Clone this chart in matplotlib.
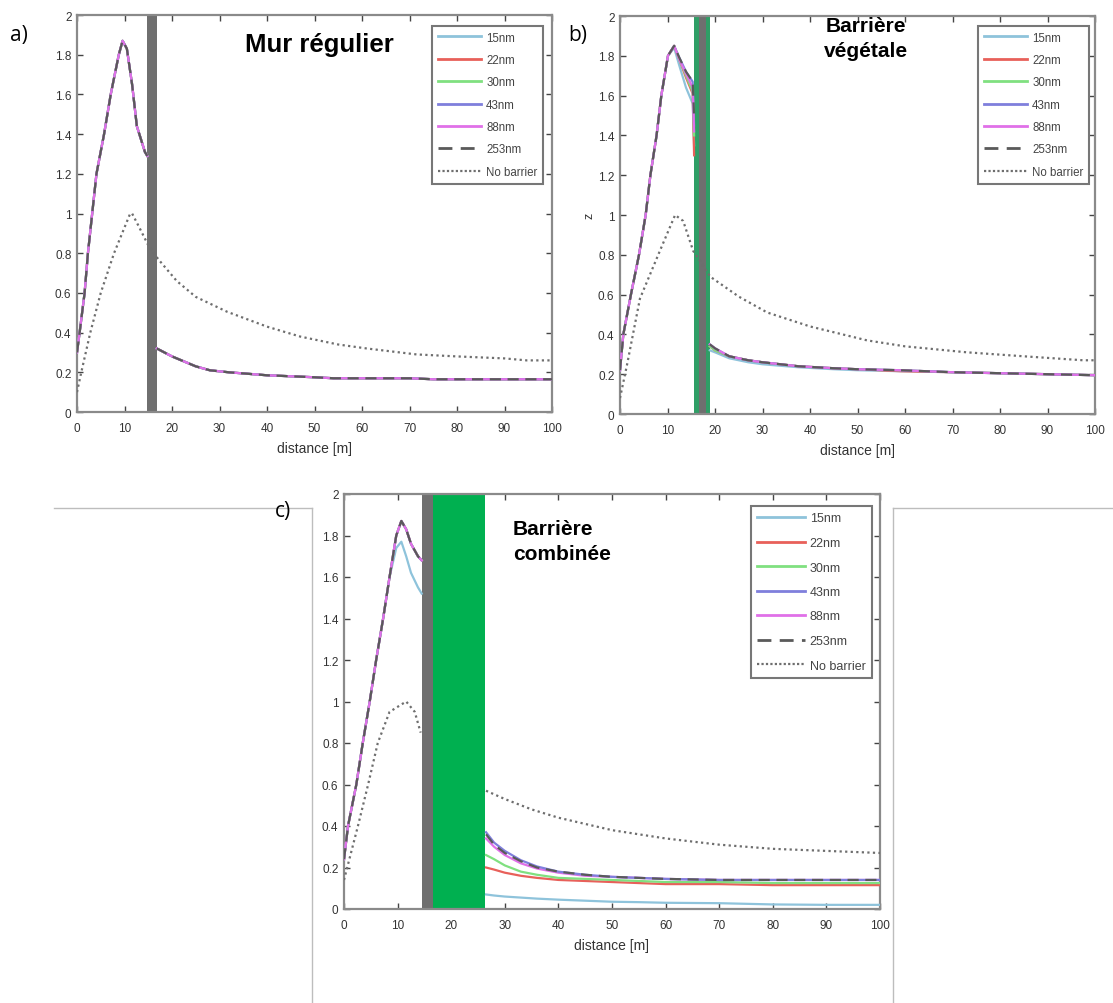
import matplotlib
matplotlib.use("Agg")
import matplotlib.pyplot as plt
from matplotlib.ticker import FuncFormatter
from matplotlib.lines import Line2D

plt.rcParams['font.family'] = ['Liberation Sans', 'DejaVu Sans']

# ---------------- data ----------------
series = ["15nm", "22nm", "30nm", "43nm", "88nm", "253nm"]
colors = {"15nm": "#8ec3db", "22nm": "#e8605a", "30nm": "#80e080",
          "43nm": "#7f7fdc", "88nm": "#e070e8", "253nm": "#5a5a5a"}
nobar_color = "#6e6e6e"
xticks = [0, 10, 20, 30, 40, 50, 60, 70, 80, 90, 100]
yticks = [0, 0.2, 0.4, 0.6, 0.8, 1.0, 1.2, 1.4, 1.6, 1.8, 2.0]

# Panel a : regular wall (all particle sizes overlap)
a_pre_x = [0, 0.55, 1.6, 2.3, 3.2, 4.1, 5.7, 7.1, 8.8, 9.6, 10.5, 11.6, 12.6, 14.3, 14.8]
a_pre_z = [0.30, 0.40, 0.60, 0.80, 1.00, 1.20, 1.40, 1.60, 1.80, 1.87, 1.83, 1.65, 1.44, 1.31, 1.29]
a_post_x = [16.8, 20, 25, 28, 32, 40, 50, 54, 60, 70, 75, 80, 90, 100]
a_post_z = [0.32, 0.28, 0.23, 0.21, 0.20, 0.185, 0.175, 0.17, 0.17, 0.17, 0.165, 0.165, 0.165, 0.165]
a_nb_x = [0, 0.9, 2.8, 5.0, 7.8, 11.2, 11.6, 12.9, 15.0, 17.1, 21, 25, 31.6, 40, 47, 55, 61, 71.5, 80, 90, 94.7, 100]
a_nb_z = [0.10, 0.20, 0.40, 0.60, 0.80, 1.00, 1.00, 0.94, 0.84, 0.77, 0.66, 0.58, 0.505, 0.43, 0.38, 0.34, 0.32, 0.29, 0.28, 0.27, 0.26, 0.26]
a_wall = (14.8, 16.8)

# Panel b : vegetation barrier
b_pre_x = [0, 0.7, 2.3, 4.0, 5.4, 6.4, 7.7, 8.7, 10.1, 11.4, 12.5, 13.9, 15.3, 15.6]
b_pre_z = {
    "15nm":  [0.22, 0.40, 0.60, 0.80, 1.00, 1.20, 1.40, 1.60, 1.80, 1.84, 1.75, 1.64, 1.56, 1.35],
    "22nm":  [0.22, 0.40, 0.60, 0.80, 1.00, 1.20, 1.40, 1.60, 1.80, 1.85, 1.78, 1.69, 1.61, 1.30],
    "30nm":  [0.22, 0.40, 0.60, 0.80, 1.00, 1.20, 1.40, 1.60, 1.80, 1.85, 1.78, 1.70, 1.62, 1.40],
    "43nm":  [0.22, 0.40, 0.60, 0.80, 1.00, 1.20, 1.40, 1.60, 1.80, 1.85, 1.79, 1.72, 1.67, 1.45],
    "88nm":  [0.22, 0.40, 0.60, 0.80, 1.00, 1.20, 1.40, 1.60, 1.80, 1.85, 1.78, 1.71, 1.64, 1.42],
    "253nm": [0.22, 0.40, 0.60, 0.80, 1.00, 1.20, 1.40, 1.60, 1.80, 1.85, 1.79, 1.72, 1.67, 1.50],
}
b_post_x = [18.9, 20, 23, 27, 30, 37.5, 45, 50, 59, 70, 80, 90, 100]
b_post_z = {
    "15nm":  [0.32, 0.31, 0.28, 0.26, 0.25, 0.235, 0.225, 0.22, 0.215, 0.21, 0.205, 0.20, 0.195],
    "22nm":  [0.34, 0.32, 0.29, 0.27, 0.26, 0.24, 0.23, 0.225, 0.215, 0.21, 0.205, 0.20, 0.195],
    "30nm":  [0.34, 0.32, 0.29, 0.27, 0.26, 0.24, 0.23, 0.225, 0.22, 0.21, 0.205, 0.20, 0.195],
    "43nm":  [0.35, 0.33, 0.29, 0.27, 0.26, 0.24, 0.23, 0.225, 0.22, 0.21, 0.205, 0.20, 0.195],
    "88nm":  [0.35, 0.33, 0.29, 0.27, 0.26, 0.24, 0.23, 0.225, 0.22, 0.21, 0.205, 0.20, 0.195],
    "253nm": [0.35, 0.33, 0.29, 0.27, 0.26, 0.24, 0.23, 0.225, 0.22, 0.21, 0.205, 0.20, 0.195],
}
b_nb_x = [0, 1.5, 4.2, 8.4, 11.6, 13.3, 15.4, 19, 25, 31, 40, 52, 60, 73, 85, 97.5, 100]
b_nb_z = [0.08, 0.25, 0.58, 0.82, 1.00, 0.97, 0.82, 0.69, 0.59, 0.51, 0.44, 0.37, 0.34, 0.31, 0.29, 0.27, 0.27]
b_green = (15.6, 18.9)
b_wall = (16.6, 18.2)

# Panel c : combined barrier
c_pre_x = [0, 0.75, 2.3, 3.5, 4.8, 6.0, 7.3, 8.5, 9.75, 10.7, 11.6, 12.5, 13.8, 14.5]
c_pre_main = [0.24, 0.40, 0.60, 0.80, 1.00, 1.20, 1.40, 1.60, 1.80, 1.87, 1.83, 1.76, 1.70, 1.68]
c_pre_15 = [0.24, 0.40, 0.60, 0.80, 1.00, 1.20, 1.40, 1.60, 1.74, 1.77, 1.70, 1.62, 1.55, 1.52]
c_post_x = [26.5, 28, 30, 33, 36, 40, 45, 50, 55, 60, 70, 80, 90, 100]
c_post_z = {
    "15nm":  [0.07, 0.065, 0.06, 0.055, 0.05, 0.045, 0.04, 0.035, 0.033, 0.03, 0.028, 0.022, 0.02, 0.02],
    "22nm":  [0.20, 0.19, 0.175, 0.16, 0.15, 0.14, 0.135, 0.13, 0.125, 0.12, 0.12, 0.115, 0.115, 0.115],
    "30nm":  [0.26, 0.24, 0.21, 0.18, 0.165, 0.15, 0.145, 0.14, 0.135, 0.13, 0.13, 0.125, 0.125, 0.125],
    "43nm":  [0.37, 0.32, 0.28, 0.235, 0.205, 0.18, 0.165, 0.155, 0.15, 0.145, 0.14, 0.14, 0.14, 0.14],
    "88nm":  [0.34, 0.30, 0.26, 0.22, 0.195, 0.175, 0.16, 0.155, 0.15, 0.145, 0.14, 0.14, 0.14, 0.14],
    "253nm": [0.36, 0.31, 0.27, 0.23, 0.20, 0.18, 0.165, 0.155, 0.15, 0.145, 0.14, 0.14, 0.14, 0.14],
}
c_nb_x = [0, 2.6, 4.5, 6.3, 8.5, 11.6, 13.2, 14.3, 26.5, 30, 35, 40, 50, 60, 70, 80, 90, 100]
c_nb_z = [0.14, 0.40, 0.60, 0.80, 0.95, 1.00, 0.95, 0.85, 0.57, 0.53, 0.48, 0.44, 0.38, 0.34, 0.31, 0.29, 0.28, 0.27]
c_wall = (14.5, 16.6)
c_green = (16.6, 26.3)

# ---------------- figure ----------------
W, H = 1113, 1004
fig = plt.figure(figsize=(W / 100, H / 100), dpi=100)


def px_axes(l, t, r, b):
    return fig.add_axes([l / W, 1 - b / H, (r - l) / W, (b - t) / H])


def style(ax):
    ax.set_xlim(0, 100)
    ax.set_ylim(0, 2)
    ax.set_xticks(xticks)
    ax.set_yticks(yticks)
    ax.yaxis.set_major_formatter(FuncFormatter(lambda v, p: "%g" % round(v, 1)))
    ax.tick_params(direction="in", length=4, width=1, top=True, right=True,
                   labelsize=8.5, colors="#444444", labelcolor="#333333", pad=4)
    ax.tick_params(axis="x", pad=7)
    for s in ax.spines.values():
        s.set_color("#8a8a8a")
        s.set_linewidth(1.6)
    ax.set_xlabel("distance [m]", fontsize=10, color="#333333", labelpad=5)


def legend(ax, anchor, spacing, fs):
    handles = [Line2D([], [], color=colors[s], lw=2,
                      ls=(0, (5, 3)) if s == "253nm" else "-") for s in series]
    handles.append(Line2D([], [], color=nobar_color, lw=1.6, ls=(0, (1, 1))))
    lg = ax.legend(handles, series + ["No barrier"], loc="upper right",
                   bbox_to_anchor=anchor, bbox_transform=fig.transFigure,
                   fontsize=fs, handlelength=3.8, labelspacing=spacing,
                   borderpad=0.5, handletextpad=0.4, fancybox=False, framealpha=1)
    lg.get_frame().set_edgecolor("#777777")
    lg.get_frame().set_linewidth(1.5)
    for t in lg.get_texts():
        t.set_color("#444444")


def plot_series(ax, x, z, s, zorder=3):
    ax.plot(x, z, color=colors[s], lw=1.6,
            ls=(0, (5, 3)) if s == "253nm" else "-", zorder=zorder)


# ---- panel a
axa = px_axes(77, 16, 552, 413)
style(axa)
axa.axvspan(*a_wall, color="#6f6f6f", zorder=2, lw=0)
for s in series:
    plot_series(axa, a_pre_x, a_pre_z, s)
    plot_series(axa, a_post_x, a_post_z, s)
axa.plot(a_nb_x, a_nb_z, color=nobar_color, lw=1.6, ls=(0, (1, 1.5)), zorder=3)
legend(axa, (549 / W, 1 - 21 / H), 0.9, 8.3)

# ---- panel b
axb = px_axes(620, 17, 1095, 415)
style(axb)
axb.axvspan(*b_green, color="#2f9e66", zorder=2, lw=0)
axb.axvspan(*b_wall, color="#6f6f6f", zorder=2, lw=0)
for s in series:
    plot_series(axb, b_pre_x, b_pre_z[s], s)
    plot_series(axb, b_post_x, b_post_z[s], s)
axb.plot(b_nb_x, b_nb_z, color=nobar_color, lw=1.6, ls=(0, (1, 1.5)), zorder=3)
axb.set_ylabel("z", fontsize=9, color="#333333", labelpad=2)
legend(axb, (1095 / W, 1 - 21 / H), 0.9, 8.3)

# ---- panel c
axc = px_axes(344, 495, 880, 910)
style(axc)
axc.axvspan(*c_wall, color="#6f6f6f", zorder=2, lw=0)
axc.axvspan(*c_green, color="#00b050", zorder=2, lw=0)
for s in series:
    pre = c_pre_15 if s == "15nm" else c_pre_main
    plot_series(axc, c_pre_x, pre, s)
for s in ["15nm", "22nm", "30nm", "88nm", "43nm", "253nm"]:
    plot_series(axc, c_post_x, c_post_z[s], s)
axc.plot(c_nb_x[:8], c_nb_z[:8], color=nobar_color, lw=1.6, ls=(0, (1, 1.5)), zorder=3)
axc.plot(c_nb_x[8:], c_nb_z[8:], color=nobar_color, lw=1.6, ls=(0, (1, 1.5)), zorder=3)
legend(axc, (878 / W, 1 - 501 / H), 1.0, 9)

# ---- titles and panel letters
fig.text(319 / W, 1 - 45 / H, "Mur régulier", fontsize=18.5, fontweight="bold",
         ha="center", va="center")
fig.text(866 / W, 1 - 39 / H, "Barrière\nvégétale", fontsize=15, fontweight="bold",
         ha="center", va="center", linespacing=1.35)
fig.text(513 / W, 1 - 542 / H, "Barrière\ncombinée", fontsize=15, fontweight="bold",
         ha="left", va="center", linespacing=1.35)
for lbl, x, y in [("a)", 10, 36), ("b)", 568, 36), ("c)", 275, 511)]:
    fig.text(x / W, 1 - y / H, lbl, fontsize=15, ha="left", va="center",
             family=["Open Sans", "DejaVu Sans"])

# ---- thin gray frame lines around the lower panel
gl = dict(color="#bdbdbd", lw=1.0, transform=fig.transFigure)
fig.add_artist(Line2D([54 / W, 312 / W], [1 - 509 / H, 1 - 509 / H], **gl))
fig.add_artist(Line2D([312 / W, 312 / W], [1 - 509 / H, 0], **gl))
fig.add_artist(Line2D([893 / W, 1], [1 - 509 / H, 1 - 509 / H], **gl))
fig.add_artist(Line2D([893 / W, 893 / W], [1 - 509 / H, 0], **gl))

fig.savefig("out.png", dpi=100, facecolor="white")
